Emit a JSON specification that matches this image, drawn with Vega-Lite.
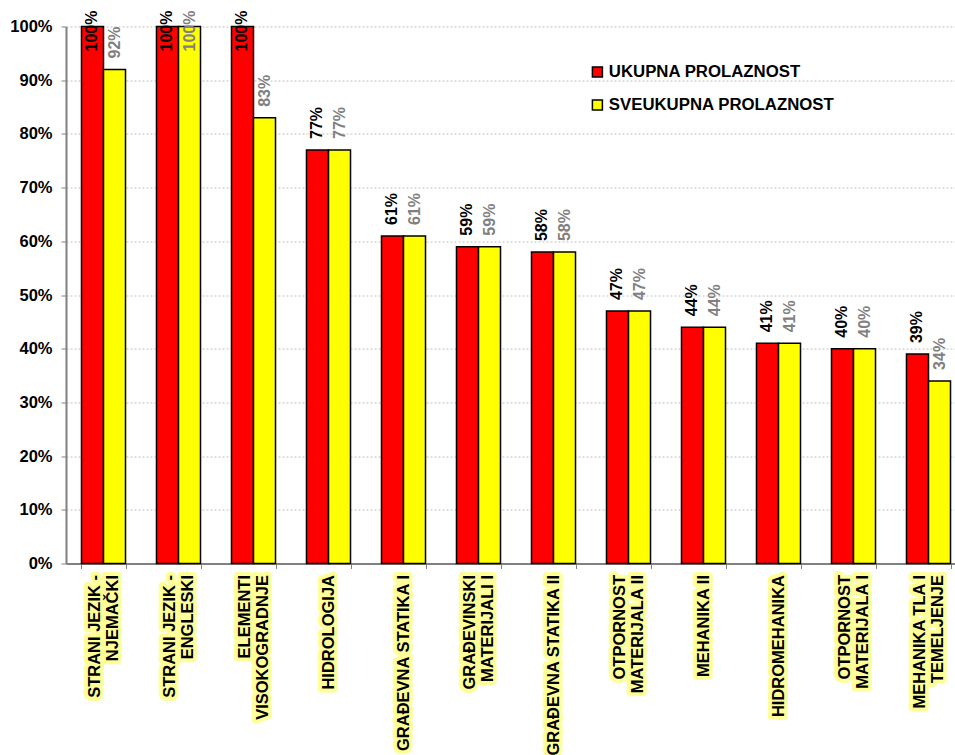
{
  "$schema": "https://vega.github.io/schema/vega-lite/v6.json",
  "width": 889,
  "height": 537,
  "autosize": {"type": "none"},
  "padding": {"left": 66, "top": 26.5, "right": 0, "bottom": 191.5},
  "background": "white",
  "config": {"view": {"stroke": null}, "font": "Liberation Sans"},
  "data": {
    "values": [
      {"cat": "STRANI JEZIK -|NJEMAČKI", "series": "UKUPNA PROLAZNOST", "value": 1.00},
      {"cat": "STRANI JEZIK -|NJEMAČKI", "series": "SVEUKUPNA PROLAZNOST", "value": 0.92},
      {"cat": "STRANI JEZIK -|ENGLESKI", "series": "UKUPNA PROLAZNOST", "value": 1.00},
      {"cat": "STRANI JEZIK -|ENGLESKI", "series": "SVEUKUPNA PROLAZNOST", "value": 1.00},
      {"cat": "ELEMENTI|VISOKOGRADNJE", "series": "UKUPNA PROLAZNOST", "value": 1.00},
      {"cat": "ELEMENTI|VISOKOGRADNJE", "series": "SVEUKUPNA PROLAZNOST", "value": 0.83},
      {"cat": "HIDROLOGIJA", "series": "UKUPNA PROLAZNOST", "value": 0.77},
      {"cat": "HIDROLOGIJA", "series": "SVEUKUPNA PROLAZNOST", "value": 0.77},
      {"cat": "GRAĐEVNA STATIKA I", "series": "UKUPNA PROLAZNOST", "value": 0.61},
      {"cat": "GRAĐEVNA STATIKA I", "series": "SVEUKUPNA PROLAZNOST", "value": 0.61},
      {"cat": "GRAĐEVINSKI|MATERIJALI I", "series": "UKUPNA PROLAZNOST", "value": 0.59},
      {"cat": "GRAĐEVINSKI|MATERIJALI I", "series": "SVEUKUPNA PROLAZNOST", "value": 0.59},
      {"cat": "GRAĐEVNA STATIKA II", "series": "UKUPNA PROLAZNOST", "value": 0.58},
      {"cat": "GRAĐEVNA STATIKA II", "series": "SVEUKUPNA PROLAZNOST", "value": 0.58},
      {"cat": "OTPORNOST|MATERIJALA II", "series": "UKUPNA PROLAZNOST", "value": 0.47},
      {"cat": "OTPORNOST|MATERIJALA II", "series": "SVEUKUPNA PROLAZNOST", "value": 0.47},
      {"cat": "MEHANIKA II", "series": "UKUPNA PROLAZNOST", "value": 0.44},
      {"cat": "MEHANIKA II", "series": "SVEUKUPNA PROLAZNOST", "value": 0.44},
      {"cat": "HIDROMEHANIKA", "series": "UKUPNA PROLAZNOST", "value": 0.41},
      {"cat": "HIDROMEHANIKA", "series": "SVEUKUPNA PROLAZNOST", "value": 0.41},
      {"cat": "OTPORNOST|MATERIJALA I", "series": "UKUPNA PROLAZNOST", "value": 0.40},
      {"cat": "OTPORNOST|MATERIJALA I", "series": "SVEUKUPNA PROLAZNOST", "value": 0.40},
      {"cat": "MEHANIKA TLA I|TEMELJENJE", "series": "UKUPNA PROLAZNOST", "value": 0.39},
      {"cat": "MEHANIKA TLA I|TEMELJENJE", "series": "SVEUKUPNA PROLAZNOST", "value": 0.34}
    ]
  },
  "layer": [
    {
      "mark": {"type": "bar", "stroke": "black", "strokeWidth": 1.5},
      "encoding": {
        "x": {
          "field": "cat", "type": "nominal", "sort": null,
          "scale": {"range": [0, 900], "paddingInner": 0.413, "paddingOuter": 0.2065},
          "axis": {"labels": false, "title": null, "tickBand": "extent", "domainColor": "#808080", "domainWidth": 2, "tickColor": "#808080", "tickSize": 5, "tickWidth": 1, "grid": false}
        },
        "xOffset": {"field": "series", "sort": ["UKUPNA PROLAZNOST", "SVEUKUPNA PROLAZNOST"]},
        "y": {
          "field": "value", "type": "quantitative",
          "scale": {"domain": [0, 1], "nice": false},
          "axis": {
            "title": null, "format": ".0%",
            "values": [0, 0.1, 0.2, 0.3, 0.4, 0.5, 0.6, 0.7, 0.8, 0.9, 1],
            "grid": true, "gridDash": [2, 2], "gridColor": "#c0c0c0", "gridWidth": 1,
            "domainColor": "#808080", "domainWidth": 2,
            "tickColor": "#808080", "tickSize": 5, "tickWidth": 1,
            "labelFont": "Liberation Sans", "labelFontSize": 16.5, "labelFontWeight": "bold", "labelColor": "black", "labelPadding": 9
          }
        },
        "color": {
          "field": "series", "type": "nominal",
          "scale": {"domain": ["UKUPNA PROLAZNOST", "SVEUKUPNA PROLAZNOST"], "range": ["#FF0000", "#FFFF00"]},
          "legend": {
            "title": null, "orient": "none", "legendX": 523, "legendY": 37, "direction": "vertical",
            "symbolType": "square", "symbolSize": 100, "symbolStrokeColor": "black", "symbolStrokeWidth": 1.5,
            "labelFont": "Liberation Sans", "labelFontSize": 16.8, "labelFontWeight": "bold", "labelColor": "black",
            "labelOffset": 3, "labelLimit": 0, "rowPadding": 15, "padding": 0
          }
        }
      }
    },
    {
      "transform": [{"filter": "datum.value < 1"}],
      "mark": {"type": "text", "angle": 270, "align": "left", "baseline": "middle", "dx": 11, "font": "Liberation Sans", "fontSize": 16, "fontWeight": "bold"},
      "encoding": {
        "x": {"field": "cat", "type": "nominal", "sort": null},
        "xOffset": {"field": "series", "sort": ["UKUPNA PROLAZNOST", "SVEUKUPNA PROLAZNOST"]},
        "y": {"field": "value", "type": "quantitative"},
        "text": {"field": "value", "type": "quantitative", "format": ".0%"},
        "color": {"condition": {"test": "datum.series == 'UKUPNA PROLAZNOST'", "value": "black"}, "value": "#808080"}
      }
    },
    {
      "transform": [{"filter": "datum.value >= 1"}],
      "mark": {"type": "text", "angle": 270, "align": "right", "baseline": "middle", "dx": 16, "font": "Liberation Sans", "fontSize": 16, "fontWeight": "bold"},
      "encoding": {
        "x": {"field": "cat", "type": "nominal", "sort": null},
        "xOffset": {"field": "series", "sort": ["UKUPNA PROLAZNOST", "SVEUKUPNA PROLAZNOST"]},
        "y": {"field": "value", "type": "quantitative"},
        "text": {"field": "value", "type": "quantitative", "format": ".0%"},
        "color": {"condition": {"test": "datum.series == 'UKUPNA PROLAZNOST'", "value": "black"}, "value": "#808080"}
      }
    },
    {
      "transform": [{"filter": "datum.series == 'UKUPNA PROLAZNOST' && indexof(datum.cat, '|') < 0"}],
      "mark": {"type": "text", "angle": 270, "align": "right", "baseline": "middle", "dx": -11.5, "font": "Liberation Sans", "fontSize": 16.5, "fontWeight": "bold", "fill": "#FFFF99", "stroke": "#FFFF99", "strokeWidth": 8, "strokeJoin": "round"},
      "encoding": {
        "x": {"field": "cat", "type": "nominal", "sort": null},
        "y": {"datum": 0},
        "text": {"field": "cat"}
      }
    },
    {
      "transform": [{"filter": "datum.series == 'UKUPNA PROLAZNOST' && indexof(datum.cat, '|') >= 0"}],
      "mark": {"type": "text", "angle": 270, "align": "right", "baseline": "middle", "dx": -11.5, "dy": -9, "lineBreak": "|", "lineHeight": 18, "font": "Liberation Sans", "fontSize": 16.5, "fontWeight": "bold", "fill": "#FFFF99", "stroke": "#FFFF99", "strokeWidth": 8, "strokeJoin": "round"},
      "encoding": {
        "x": {"field": "cat", "type": "nominal", "sort": null},
        "y": {"datum": 0},
        "text": {"field": "cat"}
      }
    },
    {
      "transform": [{"filter": "datum.series == 'UKUPNA PROLAZNOST' && indexof(datum.cat, '|') < 0"}],
      "mark": {"type": "text", "angle": 270, "align": "right", "baseline": "middle", "dx": -11.5, "font": "Liberation Sans", "fontSize": 16.5, "fontWeight": "bold", "fill": "black"},
      "encoding": {
        "x": {"field": "cat", "type": "nominal", "sort": null},
        "y": {"datum": 0},
        "text": {"field": "cat"}
      }
    },
    {
      "transform": [{"filter": "datum.series == 'UKUPNA PROLAZNOST' && indexof(datum.cat, '|') >= 0"}],
      "mark": {"type": "text", "angle": 270, "align": "right", "baseline": "middle", "dx": -11.5, "dy": -9, "lineBreak": "|", "lineHeight": 18, "font": "Liberation Sans", "fontSize": 16.5, "fontWeight": "bold", "fill": "black"},
      "encoding": {
        "x": {"field": "cat", "type": "nominal", "sort": null},
        "y": {"datum": 0},
        "text": {"field": "cat"}
      }
    }
  ]
}
